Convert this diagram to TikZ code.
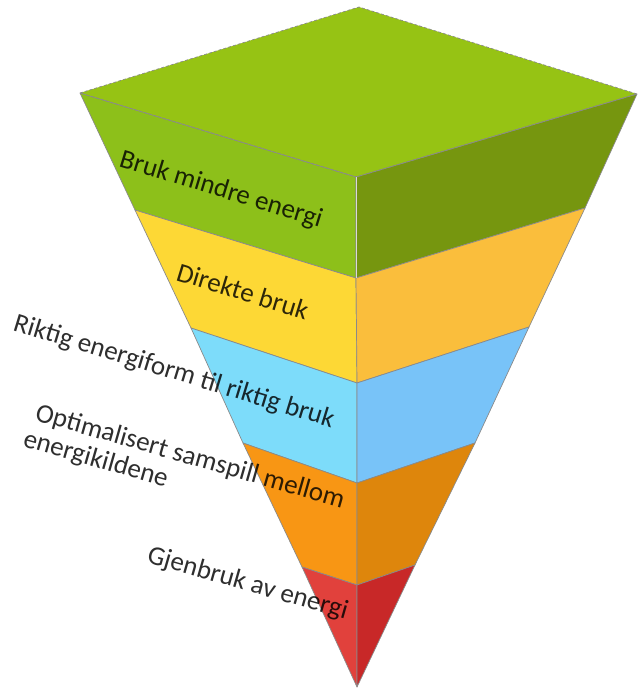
\documentclass[tikz,border=0pt]{standalone}
\usepackage{fontspec}
\setmainfont{Carlito}
\definecolor{gTop}{HTML}{96C314}
\definecolor{gL}{HTML}{8DC01A}
\definecolor{gR}{HTML}{76960F}
\definecolor{yL}{HTML}{FDD835}
\definecolor{yR}{HTML}{FABE3C}
\definecolor{bL}{HTML}{7DDCFA}
\definecolor{bR}{HTML}{78C3F8}
\definecolor{oL}{HTML}{F89614}
\definecolor{oR}{HTML}{DE860C}
\definecolor{rL}{HTML}{E1413C}
\definecolor{rR}{HTML}{C82828}
\definecolor{edge}{HTML}{8A8A8A}
\tikzset{
  face/.style={draw=edge, line width=0.7pt, line join=round},
  lbl/.style={font=\fontsize{27}{31}\selectfont, text=black, text opacity=0.82, inner sep=0pt, anchor=base west}
}
\begin{document}
\begin{tikzpicture}[x=1pt,y=-1pt]
\useasboundingbox (0,0) rectangle (638,690);
% corner coordinates
\coordinate (T) at (359,7);
\coordinate (L0) at (80,93);   \coordinate (F0) at (356,177); \coordinate (R0) at (637,94);
\coordinate (L1) at (135,210); \coordinate (F1) at (356,278); \coordinate (R1) at (585,208);
\coordinate (L2) at (191,328); \coordinate (F2) at (357,383); \coordinate (R2) at (529,327);
\coordinate (L3) at (243,443); \coordinate (F3) at (357,483); \coordinate (R3) at (475,443);
\coordinate (L4) at (302,567); \coordinate (F4) at (357,585); \coordinate (R4) at (415,565);
\coordinate (A) at (357,687);
% top face
\fill[gTop] (L0) -- (T) -- (R0) -- (F0) -- cycle;
% bands
\filldraw[face, fill=gL] (L0) -- (F0) -- (F1) -- (L1) -- cycle;
\filldraw[face, fill=gR] (F0) -- (R0) -- (R1) -- (F1) -- cycle;
\filldraw[face, fill=yL] (L1) -- (F1) -- (F2) -- (L2) -- cycle;
\filldraw[face, fill=yR] (F1) -- (R1) -- (R2) -- (F2) -- cycle;
\filldraw[face, fill=bL] (L2) -- (F2) -- (F3) -- (L3) -- cycle;
\filldraw[face, fill=bR] (F2) -- (R2) -- (R3) -- (F3) -- cycle;
\filldraw[face, fill=oL] (L3) -- (F3) -- (F4) -- (L4) -- cycle;
\filldraw[face, fill=oR] (F3) -- (R3) -- (R4) -- (F4) -- cycle;
\filldraw[face, fill=rL] (L4) -- (F4) -- (A) -- cycle;
\filldraw[face, fill=rR] (F4) -- (R4) -- (A) -- cycle;
% top face outline
\draw[face, densely dashed, fill=none] (L0) -- (T) -- (R0) -- (F0) -- cycle;
\draw[draw=white!70!gray, line width=1pt] (F0) -- (F1);
% labels
\node[lbl, rotate=-17] (t1) at (118,166) {Bruk mindre energi};
\node[lbl, rotate=-17] (t2) at (175,280) {Direkte bruk};
\node[lbl, rotate=-17] (t3) at (12,330) {Riktig energiform til riktig bruk};
\node[lbl, rotate=-16] (t4) at (34,420) {Optimalisert samspill mellom};
\node[lbl, rotate=-16] (t4b) at (22,446) {energikildene};
\node[lbl, rotate=-16] (t5) at (146,562) {Gjenbruk av energi};
\end{tikzpicture}
\end{document}
